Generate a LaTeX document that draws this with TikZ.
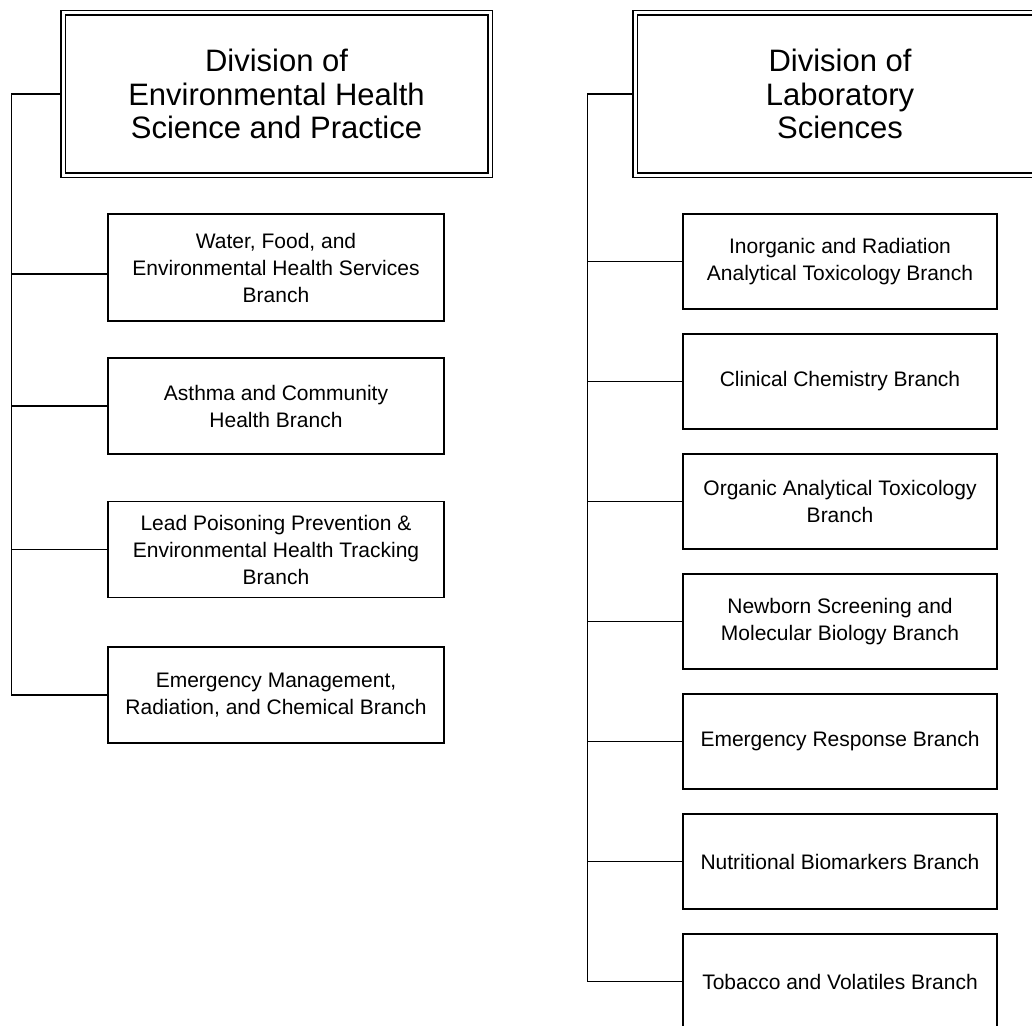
\documentclass[tikz,border=0pt]{standalone}
\usepackage{fontspec}
\setmainfont{Liberation Sans}
\usetikzlibrary{backgrounds}

\begin{document}
\begin{tikzpicture}[x=1pt, y=-1pt, line width=1.3pt,
    division/.style={draw, double, double distance=3pt, line width=1.5pt,
        minimum width=427pt, minimum height=162pt, inner sep=0pt,
        align=center, font=\fontsize{31}{33.5}\selectfont},
    ebranch/.style={draw, line width=1.5pt, minimum width=336pt, minimum height=96pt,
        inner sep=0pt, align=center, font=\fontsize{21}{27}\selectfont},
    lbranch/.style={ebranch, minimum width=314pt, minimum height=95pt},
    link/.style={line width=1.4pt}]
    \useasboundingbox (0,0) rectangle (1032,1025);
    \clip (0,0) rectangle (1032,1025);

    % Divisions
    \node[division] (divEH) at (276.5,94) {Division of\\Environmental Health\\Science and Practice};
    \node[division, minimum width=410pt] (divLS) at (840,94) {Division of\\Laboratory\\Sciences};

    % Branches of the environmental health division
    \node[ebranch, minimum height=107pt] (eb1) at (276,267.5) {Water, Food, and\\Environmental Health Services\\Branch};
    \node[ebranch] (eb2) at (276,406) {Asthma and Community\\Health Branch};
    \node[ebranch] (eb3) at (276,549.5) {Lead Poisoning Prevention \&\\Environmental Health Tracking\\Branch};
    \node[ebranch] (eb4) at (276,695) {Emergency Management,\\Radiation, and Chemical Branch};

    % Branches of the laboratory division
    \node[lbranch] (lb1) at (840,261.5) {Inorganic and Radiation\\Analytical Toxicology Branch};
    \node[lbranch] (lb2) at (840,381.5) {Clinical Chemistry Branch};
    \node[lbranch] (lb3) at (840,501.5) {Organic Analytical Toxicology\\Branch};
    \node[lbranch] (lb4) at (840,621.5) {Newborn Screening and\\Molecular Biology Branch};
    \node[lbranch] (lb5) at (840,741.5) {Emergency Response Branch};
    \node[lbranch] (lb6) at (840,861.5) {Nutritional Biomarkers Branch};
    \node[lbranch] (lb7) at (840,981.5) {Tobacco and Volatiles Branch};

    % Connectors
    \begin{scope}[on background layer={link}]
        \draw (divEH.west) -- ++(-51,0) coordinate (eTrunk) |- (eb4.west);
        \draw ([yshift=-6.5pt]eb1.west) -- ++(-96,0);
        \draw (eb2.west) -- (eTrunk |- eb2.west);
        \draw (eb3.west) -- (eTrunk |- eb3.west);

        \draw (divLS.west) -- ++(-47,0) coordinate (lTrunk) |- (lb7.west);
        \draw (lb1.west) -- (lTrunk |- lb1.west);
        \draw (lb2.west) -- (lTrunk |- lb2.west);
        \draw (lb3.west) -- (lTrunk |- lb3.west);
        \draw (lb4.west) -- (lTrunk |- lb4.west);
        \draw (lb5.west) -- (lTrunk |- lb5.west);
        \draw (lb6.west) -- (lTrunk |- lb6.west);
    \end{scope}
\end{tikzpicture}
\end{document}
